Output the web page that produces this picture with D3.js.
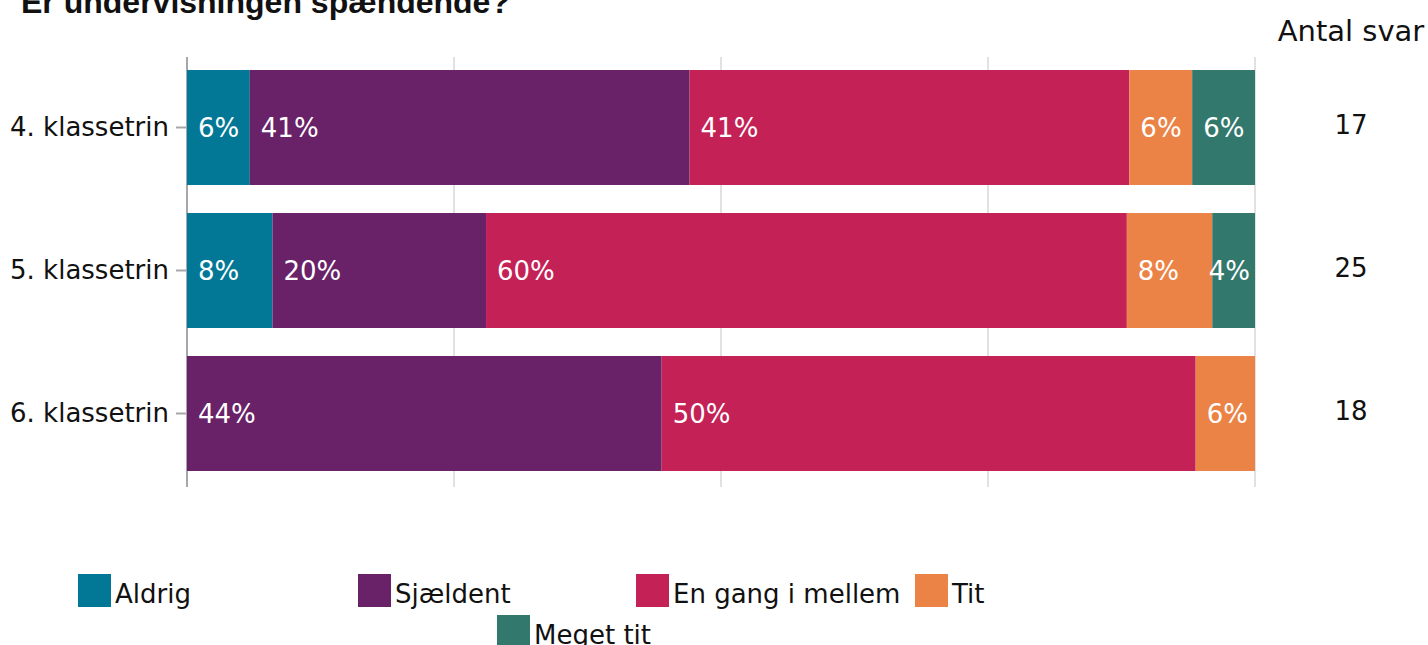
<!DOCTYPE html>
<html>
<head>
<meta charset="utf-8">
<script src="https://cdn.jsdelivr.net/npm/d3@7"></script>
<style>
  body { margin: 0; background: #fff; }
  svg { display: block; font-family: "DejaVu Sans", Verdana, sans-serif; }
</style>
</head>
<body>
<svg id="chart"></svg>
<script>
// data (antal svar per answer)
var categories = ["4. klassetrin", "5. klassetrin", "6. klassetrin"];
var answers = ["Aldrig", "Sjældent", "En gang i mellem", "Tit", "Meget tit"];
var colors = ["#027896", "#692168", "#c42156", "#eb8346", "#32786d"];
var aldrig = [1, 2, 0];
var sjaeldent = [7, 5, 8];
var enGang = [7, 15, 9];
var tit = [1, 2, 1];
var megetTit = [1, 1, 0];
var antalSvar = [17, 25, 18];
var xTicks = [0, 25, 50, 75, 100];
var title = "Er undervisningen spændende?";

var svgWidth = 1428, svgHeight = 645;
var margin = { top: 57, left: 187, right: 173 };

var svg = d3.select("#chart")
  .attr("width", svgWidth)
  .attr("height", svgHeight);

var seriesValues = [aldrig, sjaeldent, enGang, tit, megetTit];

//percent rows, stacked
var rows = categories.map(function(c, i){
  var row = { cat: c, n: antalSvar[i] };
  answers.forEach(function(a, j){ row[a] = seriesValues[j][i] / antalSvar[i] * 100; });
  return row;
});
var stacked = d3.stack().keys(answers)(rows);

var x = d3.scaleLinear().domain([0, 100]).range([margin.left, svgWidth - margin.right]);
var y = d3.scaleBand().domain(categories).range([56, 485])
  .paddingInner(0.196).paddingOuter(0.098);
var color = d3.scaleOrdinal().domain(answers).range(colors);

//title (partly above the page edge)
svg.append("text")
  .attr("x", 21).attr("y", 13)
  .style("font-family", "'Liberation Sans', Arial, sans-serif")
  .style("font-weight", "bold")
  .style("font-size", "32px")
  .attr("fill", "#111")
  .text(title);

//grid lines
svg.append("g")
  .selectAll("line")
  .data(xTicks)
  .join("line")
  .attr("x1", d => x(d)).attr("x2", d => x(d))
  .attr("y1", margin.top).attr("y2", 487)
  .attr("stroke", d => d === 0 ? "#a4a8ac" : "#c4c4c4")
  .attr("stroke-width", d => d === 0 ? 2 : 1);

//category axis
var yAxis = svg.append("g")
  .attr("transform", `translate(${x(0)},0)`)
  .call(d3.axisLeft(y).tickSize(11).tickPadding(7));
yAxis.select(".domain").remove();
yAxis.selectAll(".tick line").attr("stroke", "#a4a8ac").attr("stroke-width", 2);
yAxis.selectAll(".tick text")
  .style("font-family", "'DejaVu Sans', sans-serif")
  .style("font-size", "26px")
  .attr("fill", "#111");

//bars
var layer = svg.append("g")
  .selectAll("g")
  .data(stacked)
  .join("g")
  .attr("fill", d => color(d.key));

layer.selectAll("rect")
  .data(d => d)
  .join("rect")
  .attr("x", d => x(d[0]))
  .attr("y", d => y(d.data.cat))
  .attr("width", d => x(d[1]) - x(d[0]))
  .attr("height", y.bandwidth());

//value labels
var labels = svg.append("g")
  .style("font-size", "26px")
  .attr("fill", "#fff");
stacked.forEach(function(s){
  s.forEach(function(d){
    if (d[1] - d[0] <= 0) return;
    var t = labels.append("text")
      .attr("y", y(d.data.cat) + y.bandwidth() / 2)
      .attr("dy", "0.36em")
      .text(Math.round(d[1] - d[0]) + "%");
    var w = t.node().getComputedTextLength();
    t.attr("x", Math.min(x(d[0]) + 11, x(d[1]) - w - 5));
  });
});

//antal svar column
svg.append("text")
  .attr("x", 1351).attr("y", 41)
  .attr("text-anchor", "middle")
  .style("font-size", "29px")
  .attr("fill", "#111")
  .text("Antal svar");

svg.append("g")
  .selectAll("text")
  .data(rows)
  .join("text")
  .attr("x", 1351)
  .attr("y", d => y(d.cat) + y.bandwidth() / 2 - 3)
  .attr("dy", "0.36em")
  .attr("text-anchor", "middle")
  .style("font-size", "26px")
  .attr("fill", "#111")
  .text(d => d.n);

//legend
var legendPos = [[78, 574], [358, 574], [636, 574], [915, 574], [497, 615]];
var legend = svg.append("g")
  .selectAll("g")
  .data(answers)
  .join("g")
  .attr("transform", (d, i) => `translate(${legendPos[i][0]},${legendPos[i][1]})`);
legend.append("rect")
  .attr("width", 33).attr("height", 33)
  .attr("fill", d => color(d));
legend.append("text")
  .attr("x", 37).attr("y", 29)
  .style("font-size", "26px")
  .attr("fill", "#111")
  .text(d => d);
</script>
</body>
</html>
